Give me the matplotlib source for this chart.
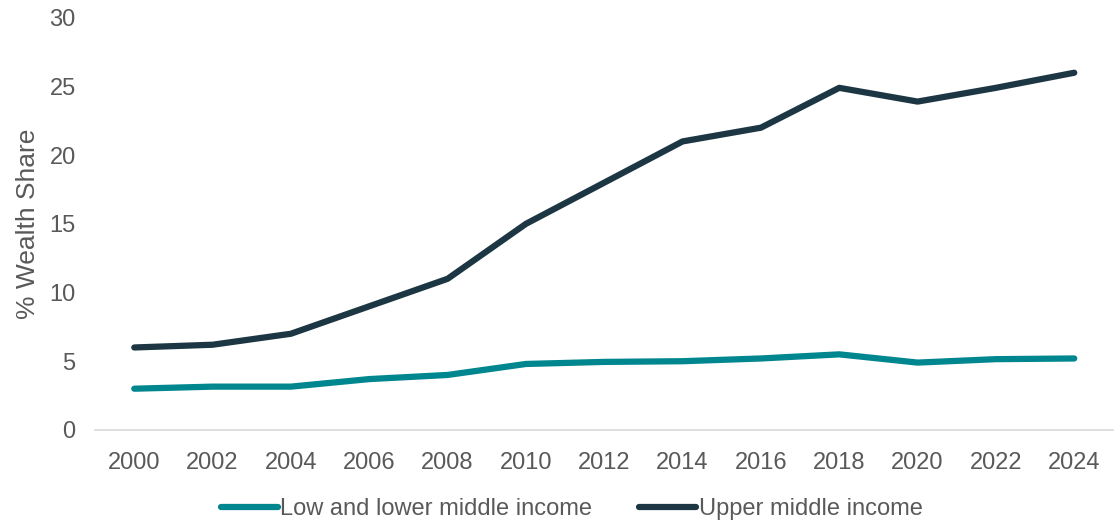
import matplotlib
matplotlib.use('Agg')
import matplotlib.pyplot as plt
import numpy as np

years = ['2000', '2002', '2004', '2006', '2008', '2010', '2012',
         '2014', '2016', '2018', '2020', '2022', '2024']
low_lower = [3.0, 3.15, 3.15, 3.7, 4.0, 4.8, 4.95, 5.0, 5.2, 5.5, 4.9, 5.15, 5.2]
upper_mid = [6.0, 6.2, 7.0, 9.0, 11.0, 15.0, 18.0, 21.0, 22.0, 24.9, 23.9, 24.9, 26.0]

plt.rcParams['font.family'] = ['Liberation Sans', 'DejaVu Sans']
txt = '#595959'
fs = 17

fig = plt.figure(figsize=(11.19, 5.23), dpi=100)
ax = fig.add_axes([0.085, 0.178, 0.91, 0.788])

x = np.arange(len(years))
ax.plot(x, low_lower, color='#00868F', lw=4.5, solid_capstyle='round',
        label='Low and lower middle income')
ax.plot(x, upper_mid, color='#1C3643', lw=4.5, solid_capstyle='round',
        label='Upper middle income')

ax.set_xlim(-0.5, len(years) - 0.5)
ax.set_ylim(0, 30)
ax.set_yticks(range(0, 31, 5))
ax.set_xticks(x)
ax.set_xticklabels(years)
ax.tick_params(axis='both', length=0, labelsize=fs, colors=txt)
ax.tick_params(axis='y', pad=14)
ax.tick_params(axis='x', pad=16)
for s in ['top', 'right', 'left']:
    ax.spines[s].set_visible(False)
ax.spines['bottom'].set_color('#D9D9D9')
ax.spines['bottom'].set_linewidth(1.2)
ax.set_ylabel('% Wealth Share', fontsize=19, color=txt, labelpad=7)

h, l = ax.get_legend_handles_labels()
leg = fig.legend(h, l, loc='center', bbox_to_anchor=(0.511, 0.027), ncol=2,
                 frameon=False, fontsize=fs, handlelength=2.4, handletextpad=0.1,
                 columnspacing=2.0, borderaxespad=0)
for t in leg.get_texts():
    t.set_color(txt)

fig.savefig('out.png', dpi=100)
